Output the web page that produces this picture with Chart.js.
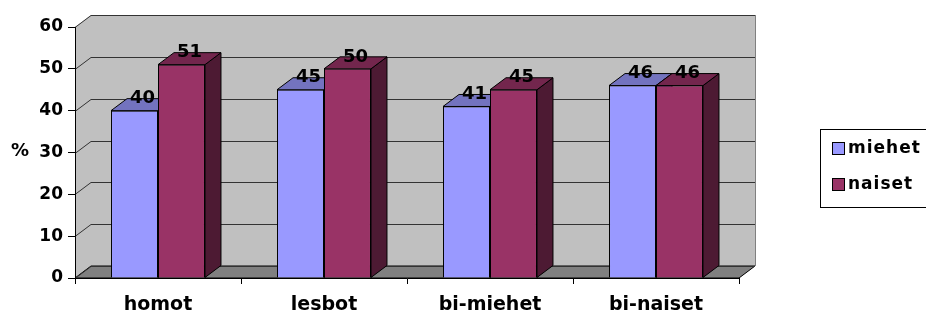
<!DOCTYPE html>
<html lang="fi">
<head>
<meta charset="UTF-8">
<title>miehet / naiset</title>
<script src="https://cdn.jsdelivr.net/npm/chart.js"></script>
<style>
  html, body { margin: 0; padding: 0; background: #fff; }
  .wrap { width: 926px; height: 312px; }
</style>
</head>
<body>
<div class="wrap"><canvas id="myChart"></canvas></div>

<script>
    const categories = ['homot', 'lesbot', 'bi-miehet', 'bi-naiset'];
    const miehet = [40, 45, 41, 46];
    const naiset = [51, 50, 45, 46];
    const yTicks = [0, 10, 20, 30, 40, 50, 60];
    const seriesNames = ['miehet', 'naiset'];

    // front / top / side colours of each series
    const fronts = ['#9999ff', '#993366'];
    const tops = ['#7373bf', '#73264d'];
    const sides = ['#4d4d80', '#4d1a33'];

    // depth of the fake 3d box
    const DX = 16, DY = 12;
    const FONT = 'DejaVu Sans';

    function poly(ctx, pts, fill, stroke) {
        ctx.beginPath();
        ctx.moveTo(pts[0][0], pts[0][1]);
        for (let i = 1; i < pts.length; i++) ctx.lineTo(pts[i][0], pts[i][1]);
        ctx.closePath();
        if (fill) { ctx.fillStyle = fill; ctx.fill(); }
        if (stroke) { ctx.strokeStyle = stroke; ctx.lineWidth = 1; ctx.stroke(); }
    }

    const threeD = {
        id: 'threeD',
        beforeDraw(chart) {
            const ctx = chart.ctx;
            const { left, right, top, bottom } = chart.chartArea;
            const yScale = chart.scales.y;
            ctx.save();
            // walls
            poly(ctx, [[left, top], [left + DX, top - DY], [right + DX, top - DY],
                [right + DX, bottom - DY], [right, bottom], [left, bottom]], '#c0c0c0');
            // floor
            poly(ctx, [[left, bottom], [left + DX, bottom - DY], [right + DX, bottom - DY], [right, bottom]],
                '#808080', '#000');
            // gridlines on side wall and back wall
            ctx.strokeStyle = '#333';
            ctx.lineWidth = 1;
            yTicks.forEach(v => {
                const py = Math.round(yScale.getPixelForValue(v)) + 0.5;
                ctx.beginPath();
                ctx.moveTo(left, py);
                ctx.lineTo(left + DX, py - DY);
                ctx.lineTo(right + DX, py - DY);
                ctx.stroke();
            });
            // back wall right edge
            ctx.strokeStyle = '#808080';
            ctx.beginPath();
            ctx.moveTo(right + DX + 0.5, top - DY);
            ctx.lineTo(right + DX + 0.5, bottom - DY);
            ctx.stroke();
            ctx.restore();
        },
        beforeDatasetsDraw(chart) {
            const ctx = chart.ctx;
            ctx.save();
            categories.forEach((c, i) => {
                chart.data.datasets.forEach((ds, d) => {
                    const bar = chart.getDatasetMeta(d).data[i];
                    const l = bar.x - bar.width / 2, r = bar.x + bar.width / 2;
                    poly(ctx, [[r, bar.y], [r + DX, bar.y - DY], [r + DX, bar.base - DY], [r, bar.base]], sides[d], '#000');
                    poly(ctx, [[l, bar.y], [l + DX, bar.y - DY], [r + DX, bar.y - DY], [r, bar.y]], tops[d], '#000');
                });
            });
            ctx.restore();
        },
        afterDatasetsDraw(chart) {
            const ctx = chart.ctx;
            ctx.save();
            ctx.fillStyle = '#000';
            ctx.textAlign = 'center';
            ctx.textBaseline = 'middle';
            ctx.font = 'bold 18px ' + FONT;
            // value labels on top of the bars
            chart.data.datasets.forEach((ds, d) => {
                chart.getDatasetMeta(d).data.forEach((bar, i) => {
                    ctx.fillText(ds.data[i], bar.x + DX / 2, bar.y - DY);
                });
            });
            // axis title
            ctx.fillText('%', 20, 151);

            // legend
            ctx.strokeStyle = '#000';
            ctx.lineWidth = 1;
            ctx.strokeRect(820.5, 129.5, 130, 78);
            ctx.font = 'bold 17px ' + FONT;
            ctx.letterSpacing = '1px';
            ctx.textAlign = 'left';
            seriesNames.forEach((name, d) => {
                const cy = 149 + d * 36;
                ctx.fillStyle = fronts[d];
                ctx.fillRect(832.5, cy - 6.5, 12, 12);
                ctx.strokeRect(832.5, cy - 6.5, 12, 12);
                ctx.fillStyle = '#000';
                ctx.fillText(name, 848, cy);
            });
            ctx.restore();
        }
    };

    new Chart(document.getElementById('myChart'), {
        type: 'bar',
        data: {
            labels: categories,
            datasets: [{
                label: seriesNames[0],
                data: miehet,
                backgroundColor: fronts[0],
                borderColor: '#000',
                borderWidth: 1,
                categoryPercentage: 0.566,
                barPercentage: 1
            }, {
                label: seriesNames[1],
                data: naiset,
                backgroundColor: fronts[1],
                borderColor: '#000',
                borderWidth: 1,
                categoryPercentage: 0.566,
                barPercentage: 1
            }]
        },
        options: {
            responsive: true,
            maintainAspectRatio: false,
            animation: false,
            events: [],
            layout: { padding: { top: 27, right: 187, left: 0, bottom: 0 } },
            plugins: {
                legend: { display: false },
                tooltip: { enabled: false }
            },
            scales: {
                x: {
                    grid: { drawOnChartArea: false, tickLength: 6, color: '#000', offset: true },
                    border: { color: '#000' },
                    ticks: {
                        color: '#000',
                        padding: 10,
                        maxRotation: 0,
                        autoSkip: false,
                        font: { family: FONT, size: 19, weight: 'bold' }
                    },
                    afterFit: s => { s.height = 34; }
                },
                y: {
                    min: 0,
                    max: 60,
                    afterBuildTicks: s => { s.ticks = yTicks.map(v => ({ value: v })); },
                    grid: { drawOnChartArea: false, tickLength: 7, color: '#000' },
                    border: { color: '#000' },
                    ticks: {
                        color: '#000',
                        padding: 5,
                        font: { family: FONT, size: 17, weight: 'bold' }
                    },
                    afterFit: s => { s.width = 75; }
                }
            }
        },
        plugins: [threeD]
    });
</script>
</body>
</html>
